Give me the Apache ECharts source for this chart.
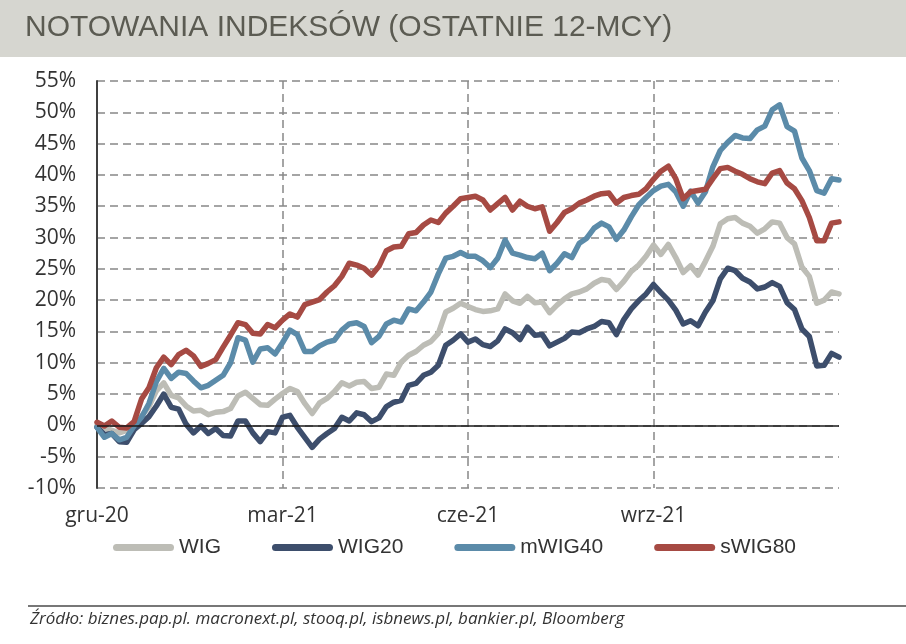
<!DOCTYPE html>
<html>
<head>
<meta charset="utf-8">
<script src="https://cdn.jsdelivr.net/npm/echarts@6/dist/echarts.min.js"></script>
<style>html,body{margin:0;padding:0;background:#fff}#c{width:906px;height:644px}</style>
</head>
<body>
<div id="c"></div>
<script>
const titleText = 'NOTOWANIA INDEKSÓW (OSTATNIE 12-MCY)';
const sourceText = 'Źródło: biznes.pap.pl. macronext.pl, stooq.pl, isbnews.pl, bankier.pl, Bloomberg';
const seriesNames = ['WIG', 'WIG20', 'mWIG40', 'sWIG80'];
const tickLabels = ['gru-20', 'mar-21', 'cze-21', 'wrz-21'];
const monthsSpan = 12;

const wig = [0.0,-0.4,-0.8,-1.2,-0.8,0.1,1.5,3.0,5.5,6.8, 4.8,4.4,3.1,2.3,2.4,1.7,2.1,2.2,2.7,4.7, 5.3,4.3,3.3,3.2,4.2,5.1,5.9,5.4,3.5,1.9, 3.6,4.3,5.4,6.8,6.3,6.9,7.0,5.9,6.1,8.2, 8.0,10.1,11.2,11.8,12.8,13.4,14.7,18.1,18.7,19.5, 19.0,18.5,18.2,18.3,18.6,21.0,19.9,19.5,20.6,19.6, 19.7,18.0,19.2,20.2,21.0,21.3,21.8,22.7,23.3,23.1, 21.7,23.0,24.6,25.6,27.0,28.8,27.3,28.9,26.8,24.4, 25.5,24.0,26.2,28.6,32.2,33.0,33.2,32.3,31.8,30.7, 31.4,32.5,32.3,30.0,29.0,25.3,23.8,19.5,20.0,21.3, 21.0];
const wig20 = [-0.3,-1.5,-1.3,-2.6,-2.7,-0.7,0.3,1.4,3.1,5.0, 2.9,2.6,0.2,-1.2,-0.1,-1.3,-0.5,-1.6,-1.7,0.7, 0.7,-1.2,-2.6,-1.0,-1.2,1.3,1.6,-0.3,-1.9,-3.5, -2.2,-1.3,-0.5,1.3,0.7,2.0,1.7,0.6,1.2,3.0, 3.7,4.0,6.4,6.7,8.0,8.5,9.6,12.8,13.6,14.6, 13.3,13.8,12.9,12.6,13.5,15.4,14.8,13.7,15.7,14.4, 14.5,12.7,13.3,13.9,14.9,14.8,15.4,15.8,16.6,16.4, 14.5,16.9,18.6,19.9,21.0,22.5,21.2,20.0,18.4,16.2, 16.7,15.9,18.1,19.9,23.4,25.1,24.7,23.5,22.9,21.8, 22.1,22.8,22.2,19.6,18.5,15.4,14.2,9.5,9.6,11.5, 10.9];
const mwig40 = [-0.3,-1.9,-1.3,-2.3,-1.9,-0.1,1.3,3.5,7.0,9.1, 7.5,8.5,8.3,7.1,6.0,6.4,7.2,8.0,10.0,14.0, 13.6,10.1,12.2,12.4,11.4,13.2,15.2,14.5,11.8,11.8, 12.7,13.3,13.6,15.2,16.2,16.4,15.8,13.2,14.2,16.2, 16.8,16.5,18.6,18.3,19.7,21.3,24.2,26.7,27.0,27.6, 27.0,27.0,26.3,25.2,26.7,29.6,27.5,27.2,26.8,26.6, 27.5,24.7,25.9,27.4,26.8,29.1,29.9,31.5,32.3,31.7, 29.7,31.2,33.3,35.2,36.4,37.5,38.2,38.5,37.3,35.0, 37.4,35.5,37.3,41.3,43.9,45.2,46.3,45.9,45.8,47.2, 47.8,50.4,51.2,47.7,47.0,42.7,40.7,37.5,37.1,39.4, 39.2];
const swig80 = [0.5,-0.1,0.7,-0.3,-0.4,0.6,4.2,6.0,9.2,10.9, 9.7,11.3,12.0,11.1,9.4,9.9,10.5,12.5,14.4,16.4, 16.1,14.7,14.6,16.1,15.6,16.8,17.8,17.3,19.3,19.7, 20.1,21.3,22.3,23.8,25.9,25.6,25.1,24.0,25.4,27.9, 28.5,28.6,30.6,30.8,32.0,32.8,32.4,33.9,35.0,36.2, 36.4,36.6,36.0,34.4,35.4,36.4,34.4,35.8,35.0,34.6, 34.9,31.0,32.4,34.0,34.6,35.5,36.0,36.6,37.0,37.1, 35.5,36.4,36.7,36.9,37.8,39.3,40.6,41.4,39.4,36.2, 37.3,37.5,37.7,39.4,41.0,41.2,40.6,40.1,39.4,38.9, 38.6,40.3,40.7,38.7,37.8,35.9,33.2,29.5,29.5,32.3, 32.5];

const colors = ['#bdbdb6', '#3d4e6c', '#5b8ba9', '#a64a43'];
const allData = [wig, wig20, mwig40, swig80];

const toPts = arr => arr.map((v, i) => [i * monthsSpan / (arr.length - 1), v]);

const chart = echarts.init(document.getElementById('c'), null, {renderer: 'canvas'});
const gridStyle = {color: '#888888', width: 1.5, type: [8, 5]};
const axisFont = {fontFamily: '"Open Sans", sans-serif', fontSize: 21, color: '#333333'};
const capsule = 'path://M3.5,0 L57.5,0 A3.5,3.5 0 0 1 57.5,7 L3.5,7 A3.5,3.5 0 0 1 3.5,0 Z';

const series = seriesNames.map((name, k) => {
  const s = {
    name: name,
    type: 'line',
    data: toPts(allData[k]),
    showSymbol: false,
    symbol: 'none',
    silent: true,
    color: colors[k],
    lineStyle: {color: colors[k], width: 5.5, cap: 'round', join: 'round'}
  };
  if (k === 0) {
    s.markLine = {
      silent: true,
      symbol: 'none',
      label: {show: false},
      lineStyle: {color: '#1a1a1a', width: 1.6, type: 'solid'},
      data: [{yAxis: 0}]
    };
  }
  return s;
});

chart.setOption({
  animation: false,
  backgroundColor: '#ffffff',
  graphic: [
    {type: 'rect', z: -10, shape: {x: 0, y: 0, width: 906, height: 57}, style: {fill: '#d6d6d0'}},
    {type: 'line', shape: {x1: 28, y1: 606, x2: 906, y2: 606}, style: {stroke: '#4a4a4a', lineWidth: 1.6}},
    {type: 'text', x: 30, y: 619, style: {text: sourceText, font: 'italic 17px "Open Sans", sans-serif', fill: '#333333', textVerticalAlign: 'middle'}}
  ],
  title: {
    text: titleText,
    left: 25, top: 13, padding: 0,
    textStyle: {fontFamily: '"Liberation Sans", sans-serif', fontSize: 30, fontWeight: 'normal', color: '#5b5b52'}
  },
  legend: {
    data: seriesNames,
    left: 113, top: 537, padding: 0,
    itemWidth: 61, itemHeight: 7, itemGap: 51,
    icon: capsule,
    textStyle: {fontFamily: '"Liberation Sans", sans-serif', fontSize: 21, color: '#333333'}
  },
  grid: {left: 97, right: 67, top: 81, bottom: 156, containLabel: false},
  xAxis: {
    type: 'value', min: 0, max: monthsSpan, interval: 3,
    axisLine: {show: false}, axisTick: {show: false},
    axisLabel: Object.assign({margin: 18, formatter: v => tickLabels[Math.round(v / 3)] || ''}, axisFont),
    splitLine: {show: true, showMinLine: false, showMaxLine: false, lineStyle: gridStyle}
  },
  yAxis: {
    type: 'value', min: -10, max: 55, interval: 5,
    axisLine: {show: true, lineStyle: {color: '#404040', width: 2}},
    axisTick: {show: false},
    axisLabel: Object.assign({margin: 21, formatter: '{value}%'}, axisFont),
    splitLine: {show: true, lineStyle: gridStyle}
  },
  series: series
});
</script>
</body>
</html>
